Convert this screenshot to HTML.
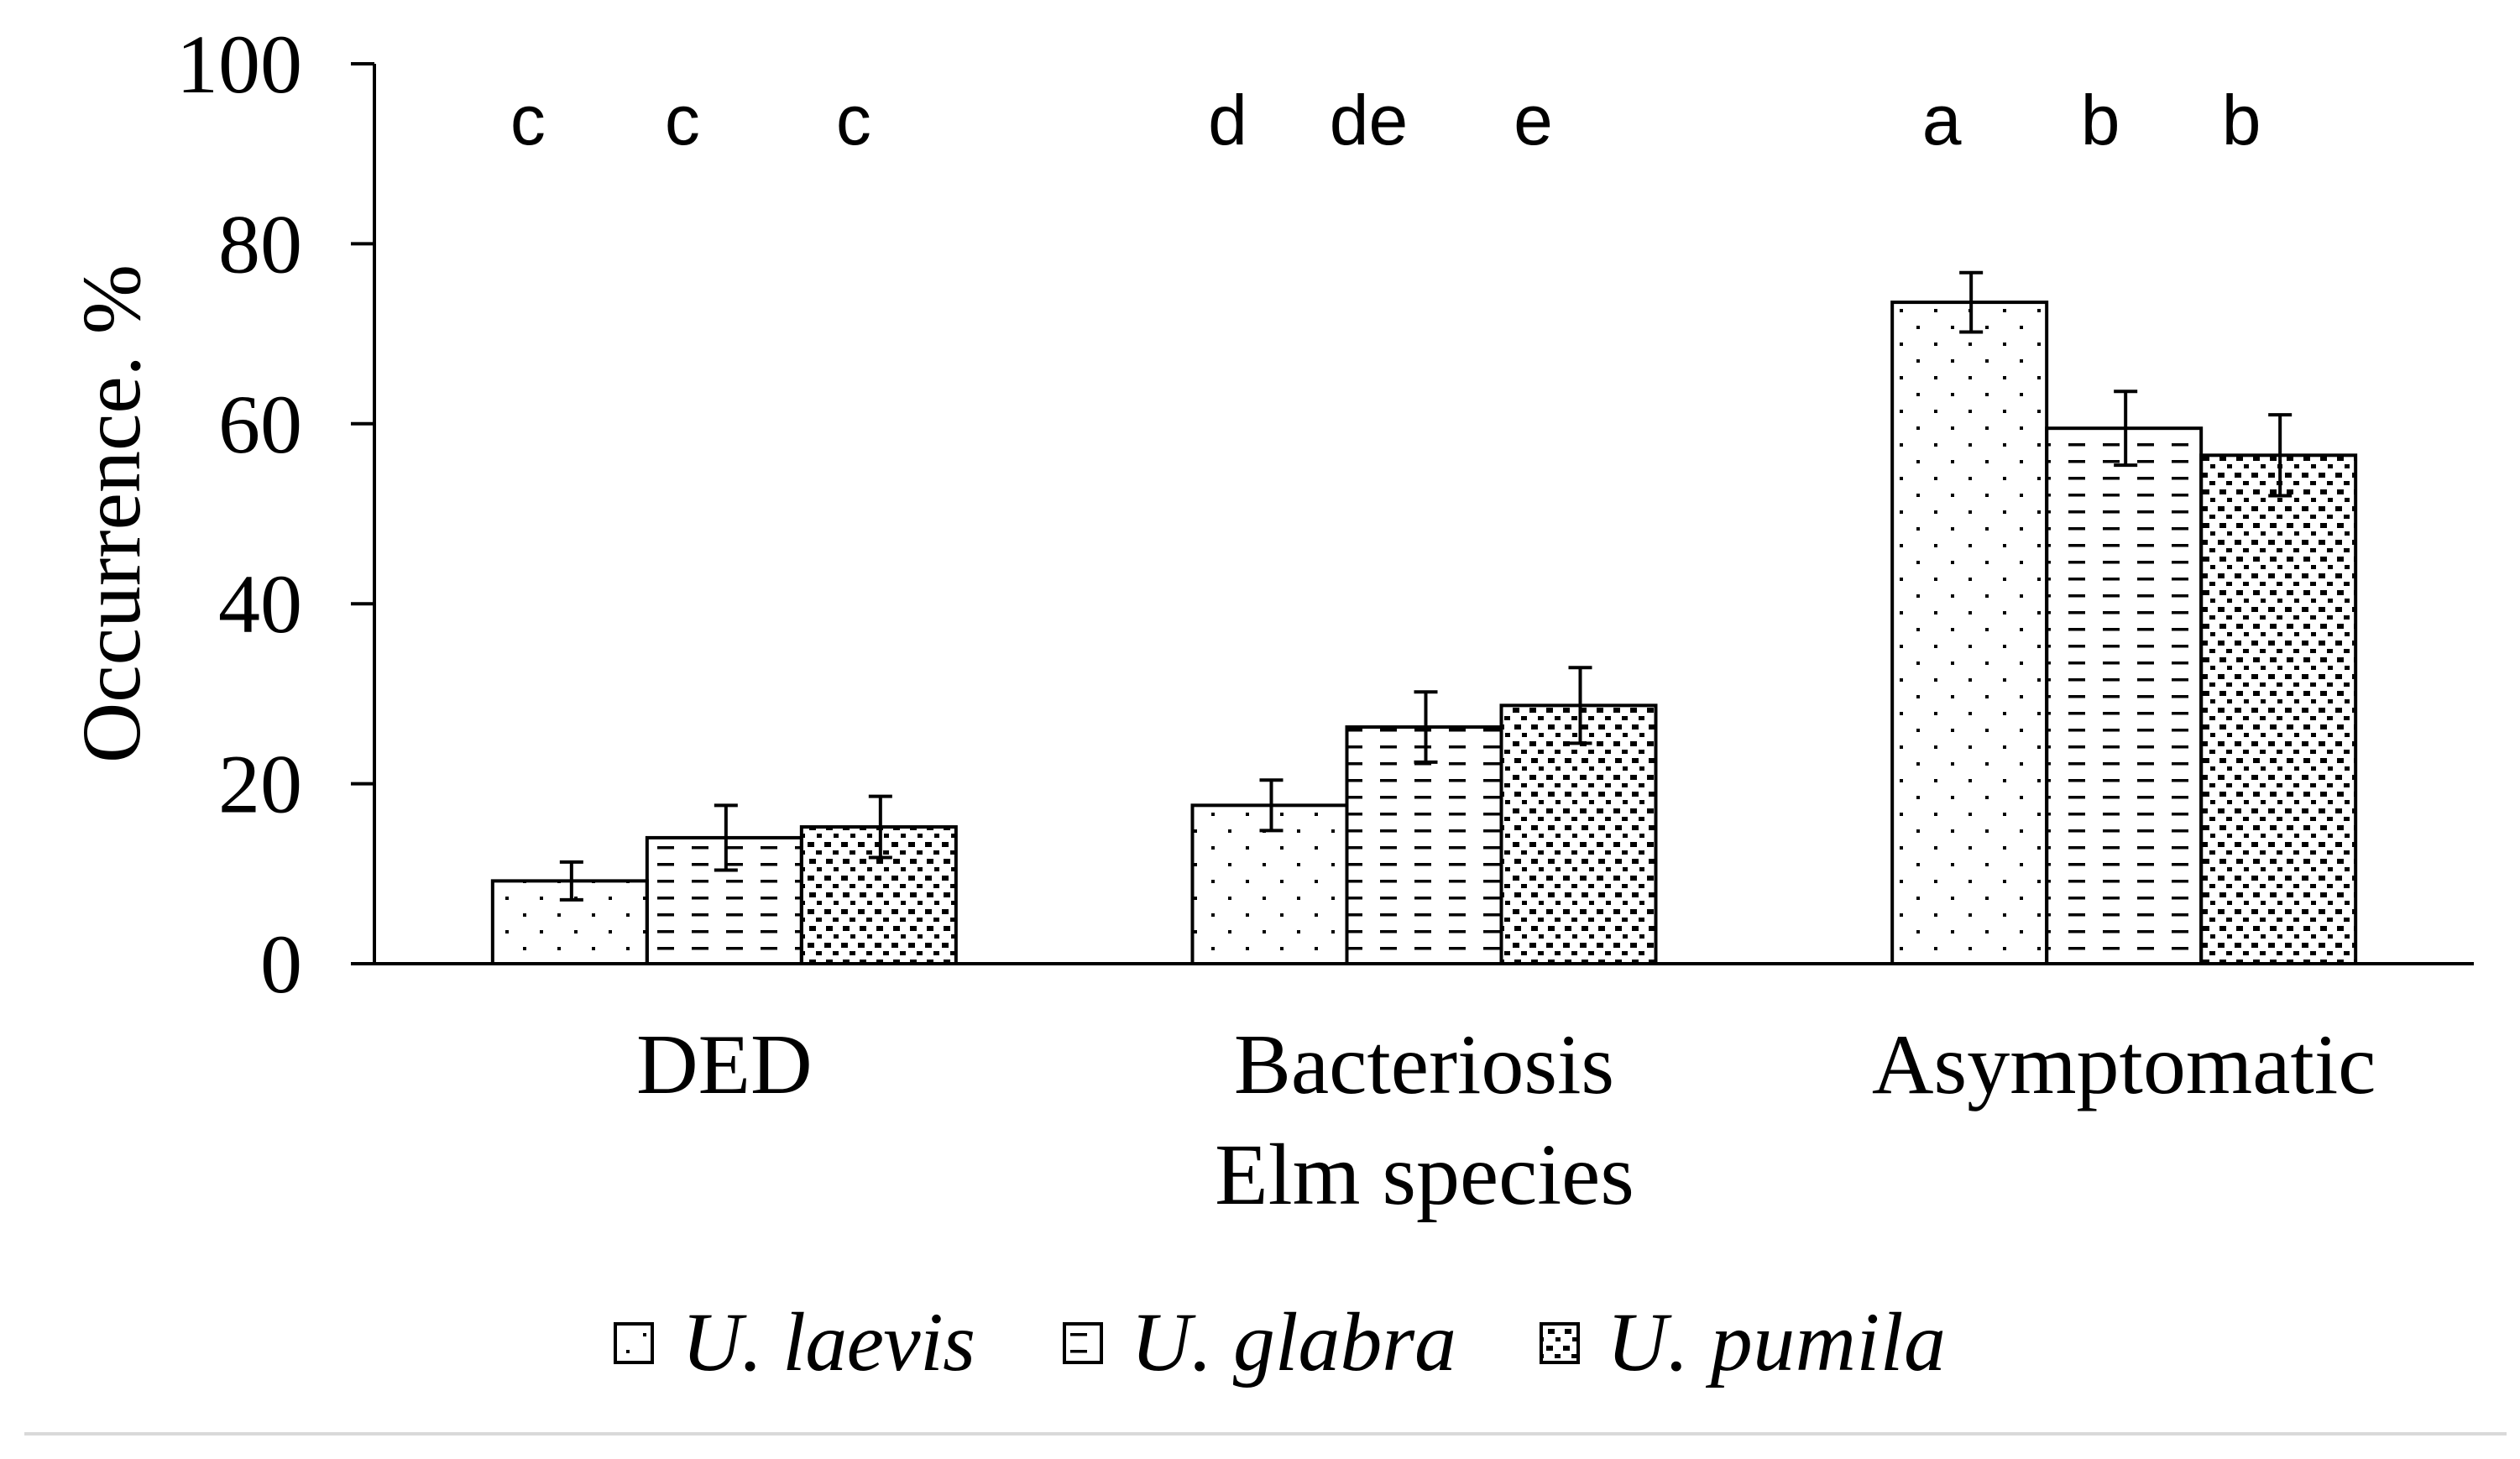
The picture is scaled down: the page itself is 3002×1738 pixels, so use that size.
<!DOCTYPE html>
<html><head><meta charset="utf-8"><style>
html,body{margin:0;padding:0;background:#fff;}
svg{display:block;}
</style></head><body>
<svg id="chart" width="3002" height="1738" viewBox="0 0 3002 1738" xmlns="http://www.w3.org/2000/svg">
<defs>
<pattern id="pDots" patternUnits="userSpaceOnUse" width="41" height="40">
<rect x="8" y="8" width="4" height="4" fill="#000"/><rect x="28" y="28" width="4" height="4" fill="#000"/>
</pattern>
<pattern id="pDash" patternUnits="userSpaceOnUse" width="41" height="20">
<rect x="4" y="8" width="20" height="3.5" fill="#000"/>
</pattern>
<pattern id="pDense" patternUnits="userSpaceOnUse" width="20" height="40">
<rect x="2" y="3" width="8" height="6" fill="#000"/><rect x="12" y="13" width="7" height="5" fill="#000"/>
<rect x="4" y="23" width="8" height="6" fill="#000"/><rect x="13" y="33" width="6" height="5" fill="#000"/>
</pattern>
</defs>
<g id="plot"></g>
<text transform="translate(166,612) rotate(-90)" text-anchor="middle" font-family="Liberation Serif, serif" font-size="100">Occurrence. %</text>
<text x="1697" y="1434" text-anchor="middle" font-family="Liberation Serif, serif" font-size="104">Elm species</text>
<g font-family="Liberation Serif, serif" font-style="italic" font-size="100">
<g><rect x="733" y="1577" width="44" height="46" fill="url(#pDots)" stroke="#000" stroke-width="4"/><text x="812" y="1632" textLength="350">U. laevis</text></g>
<g><rect x="1268" y="1577" width="44" height="46" fill="url(#pDash)" stroke="#000" stroke-width="4"/><text x="1347" y="1632" textLength="388">U. glabra</text></g>
<g><rect x="1836" y="1577" width="44" height="46" fill="url(#pDense)" stroke="#000" stroke-width="4"/><text x="1914" y="1632" textLength="404">U. pumila</text></g>
</g>
<rect x="29" y="1706" width="2957" height="4" fill="#d9d9d9"/>
</svg>
<script>
const categories = ["DED", "Bacteriosis", "Asymptomatic"];
const seriesNames = ["U. laevis", "U. glabra", "U. pumila"];
const laevis = [9.2, 17.6, 73.5];
const glabra = [14.0, 26.3, 59.5];
const pumila = [15.2, 28.7, 56.5];
const laevisErr = [2.1, 2.8, 3.3];
const glabraErr = [3.6, 3.9, 4.1];
const pumilaErr = [3.4, 4.2, 4.5];
const letters = [["c","c","c"],["d","de","e"],["a","b","b"]];
const yTicks = [0, 20, 40, 60, 80, 100];

const NS = "http://www.w3.org/2000/svg";
const g = document.getElementById("plot");
const X0 = 446, X1 = 2947, Y0 = 1148, Y1 = 76;
const yScale = v => Y0 - (v / 100) * (Y0 - Y1);
const catW = (X1 - X0) / categories.length;
const barW = 184;
const xBar = (ci, si) => X0 + catW * ci + catW / 2 - 1.5 * barW + si * barW;
function el(tag, attrs) { const e = document.createElementNS(NS, tag); for (const k in attrs) e.setAttribute(k, attrs[k]); g.appendChild(e); return e; }

const series = [laevis, glabra, pumila];
const errs = [laevisErr, glabraErr, pumilaErr];
const fills = ["url(#pDots)", "url(#pDash)", "url(#pDense)"];
const letterOff = [[-50,-50,-30],[-50,-66,-54],[-33,-28,-44]];

categories.forEach((c, ci) => {
  series.forEach((s, si) => {
    const x = xBar(ci, si), y = yScale(s[ci]);
    const r = el("rect", {x: x, y: y, width: barW, height: Y0 - y, fill: fills[si], stroke: "#000", "stroke-width": 4});
    
    
    const cx = x + barW / 2 + 2;
    const hi = yScale(s[ci] + errs[si][ci]), lo = yScale(s[ci] - errs[si][ci]);
    const eb = el("path", {d: `M${cx},${hi}V${lo}M${cx-14},${hi}H${cx+14}M${cx-14},${lo}H${cx+14}`, stroke: "#000", "stroke-width": 4, fill: "none"});
    
    
    const t = el("text", {x: x + barW / 2 + letterOff[ci][si], y: 172, "text-anchor": "middle", "font-family": "Liberation Sans, sans-serif", "font-size": 84});
    t.textContent = letters[ci][si];
    
    
  });
  const lab = el("text", {x: X0 + catW * ci + catW / 2, y: 1302, "text-anchor": "middle", "font-family": "Liberation Serif, serif", "font-size": 102});
  lab.textContent = c;
  
  
});

const ax = el("path", {d: `M${X0},${Y1}V${Y0}H${X1}`, stroke: "#000", "stroke-width": 4, fill: "none"});


yTicks.forEach(v => {
  const y = yScale(v);
  const tk = el("line", {x1: X0 - 28, x2: X0, y1: y, y2: y, stroke: "#000", "stroke-width": 4});
  
  
  const tl = el("text", {x: 360, y: y + 34, "text-anchor": "end", "font-family": "Liberation Serif, serif", "font-size": 100});
  tl.textContent = v;
  
  
});
</script>
</body></html>
